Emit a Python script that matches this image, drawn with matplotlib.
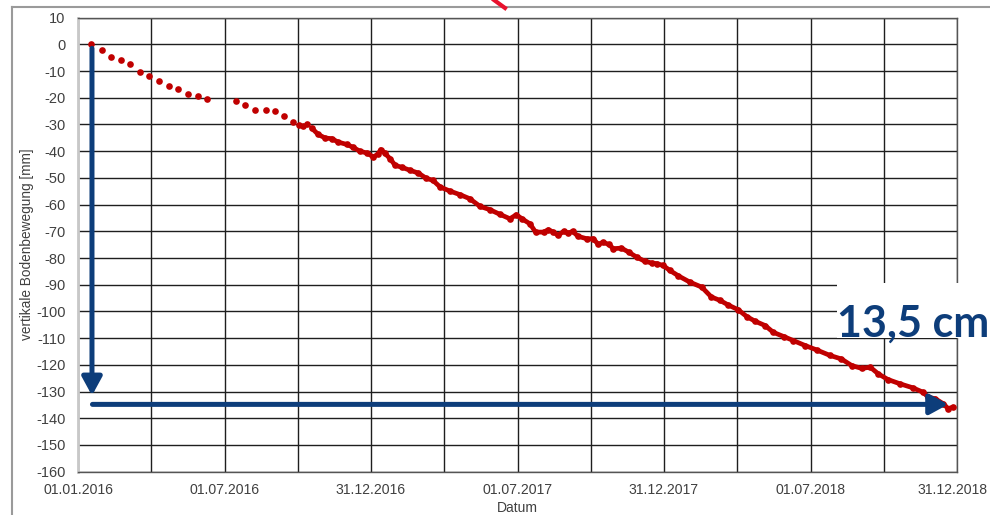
import numpy as np
import matplotlib.pyplot as plt
from matplotlib.lines import Line2D
from matplotlib.patches import Rectangle
from matplotlib.transforms import ScaledTranslation

# Tage seit 01.01.2016 und vertikale Bodenbewegung in mm
tage = [16, 29.5, 41, 53.5, 65, 77, 89, 101, 113, 125, 137, 149, 161,
        197, 208, 220, 234, 245, 257, 268, 275, 280, 285, 291, 299, 308,
        316, 324, 335, 343, 351, 360, 368, 374, 377, 382, 389, 395, 403,
        414, 424, 434, 442, 451, 463, 476, 488, 501, 513, 526, 538, 546,
        553, 563, 570, 580, 586, 592, 598, 605, 611, 616, 623, 634, 642,
        648, 654, 661, 667, 677, 686, 696, 706, 715, 721, 729, 737, 748,
        762, 777, 789, 800, 810, 822, 833, 843, 856, 866, 879, 891, 906,
        920, 937, 951, 964, 976, 987, 997, 1009, 1024, 1040, 1053, 1059,
        1068, 1078, 1084, 1090]
bewegung = [0.0, -2.2, -4.8, -6.0, -7.5, -10.4, -11.9, -13.9, -15.7, -16.6,
            -18.5, -19.4, -20.6, -21.3, -22.7, -24.6, -24.5, -25.1, -26.7,
            -29.0, -30.3, -30.5, -29.8, -31.3, -33.7, -35.1, -35.3, -36.6,
            -37.5, -38.6, -40.0, -40.7, -42.2, -41.0, -39.4, -40.7, -42.9,
            -45.3, -46.0, -47.2, -48.2, -50.2, -50.9, -53.4, -54.9, -56.3,
            -57.8, -60.7, -61.9, -63.7, -65.3, -63.8, -65.3, -67.2, -70.3,
            -70.3, -69.4, -70.3, -71.5, -70.0, -70.7, -70.0, -71.9, -72.8,
            -72.8, -74.9, -74.1, -74.9, -76.5, -76.3, -77.8, -79.7, -81.2,
            -81.9, -82.1, -82.8, -84.6, -86.7, -89.0, -90.9, -94.6, -95.9,
            -97.6, -99.3, -101.9, -103.6, -105.3, -107.8, -109.4, -110.9,
            -112.8, -114.4, -116.5, -117.8, -120.3, -121.3, -120.9, -123.4,
            -125.5, -127.1, -128.6, -130.3, -132.1, -132.7, -134.6, -136.4,
            -135.8]

datum_labels = ["01.01.2016", "01.07.2016", "31.12.2016", "01.07.2017",
                "31.12.2017", "01.07.2018", "31.12.2018"]
setzung_text = "13,5 cm"
pfeil_start = -1.5
pfeil_ende = -131.5
pfeil_niveau = -134.8

rot = "#C00000"
blau = "#0D3D7A"

plt.rcParams['font.family'] = ['Liberation Sans', 'DejaVu Sans']
plt.rcParams['axes.unicode_minus'] = False

fig = plt.figure(figsize=(9.9, 5.15), dpi=100)
ax = fig.add_axes([0.0788, 0.0841, 0.8879, 0.8817])

x = np.array(tage)
y = np.array(bewegung)
dicht = x >= 290
ax.plot(x[dicht], y[dicht], color=rot, lw=3.4, zorder=3, solid_capstyle='round')
ax.plot(x, y, 'o', color=rot, markersize=4.8, markeredgewidth=0, zorder=4)

ax.set_xlim(0, 1095)
ax.set_ylim(-160, 10)
ax.set_yticks(np.arange(-160, 11, 10))
xt = np.arange(13) * 1095 / 12
ax.set_xticks(xt)
ax.set_xticklabels([datum_labels[i // 2] if i % 2 == 0 else "" for i in range(13)])
ax.grid(True, color="#1e1e1e", lw=1.0, zorder=1)
ax.set_axisbelow(True)
ax.tick_params(length=0, labelsize=10.5, labelcolor="#404040")
ax.tick_params(axis='x', labelsize=10.1, pad=8)
ax.tick_params(axis='y', pad=9)
for s in ['top', 'right', 'bottom']:
    ax.spines[s].set_color("#555555")
    ax.spines[s].set_linewidth(1.0)
ax.spines['left'].set_color("#C8C8C8")
ax.spines['left'].set_linewidth(2.0)

# letztes Datum etwas nach links, damit es nicht am Rand abgeschnitten wird
letzte = ax.get_xticklabels()[-1]
letzte.set_transform(letzte.get_transform() + ScaledTranslation(-3 / 72, 0, fig.dpi_scale_trans))

ax.set_xlabel("Datum", fontsize=10, color="#404040", labelpad=3)
ax.set_ylabel("vertikale Bodenbewegung [mm]", fontsize=9.8, color="#404040")
ax.yaxis.set_label_coords(-0.050, 0.5)

# Pfeile fuer die Gesamtsetzung
pfeil = dict(arrowstyle='-|>,head_length=0.55,head_width=0.3', lw=3.6, color=blau,
             mutation_scale=20, shrinkA=0, shrinkB=0)
ax.annotate("", xy=(17.4, pfeil_ende), xytext=(17.4, pfeil_start), arrowprops=pfeil, zorder=5)
ax.annotate("", xy=(1084, pfeil_niveau), xytext=(18, pfeil_niveau), arrowprops=pfeil, zorder=5)

# Textfeld rechts
fig.add_artist(Rectangle((0.8455, 0.3437), 0.16, 0.1068, transform=fig.transFigure,
                         facecolor="white", edgecolor="none", zorder=10))
fig.text(0.8455, 0.3456, setzung_text, fontsize=31, fontweight='bold', color=blau,
         family=['Lato', 'DejaVu Sans'], va='baseline', ha='left', zorder=11)

# Rahmen und angeschnittene Markierung oben
fig.add_artist(Line2D([12 / 990, 12 / 990], [0, 1 - 7 / 515], color="#9A9A9A", lw=1.5))
fig.add_artist(Line2D([12 / 990, 1], [1 - 7 / 515, 1 - 7 / 515], color="#9A9A9A", lw=1.5))
fig.add_artist(Line2D([494 / 990, 505 / 990], [1.0, 1 - 8 / 515], color="#E8112D", lw=3.0))

fig.savefig("out.png", dpi=100)
